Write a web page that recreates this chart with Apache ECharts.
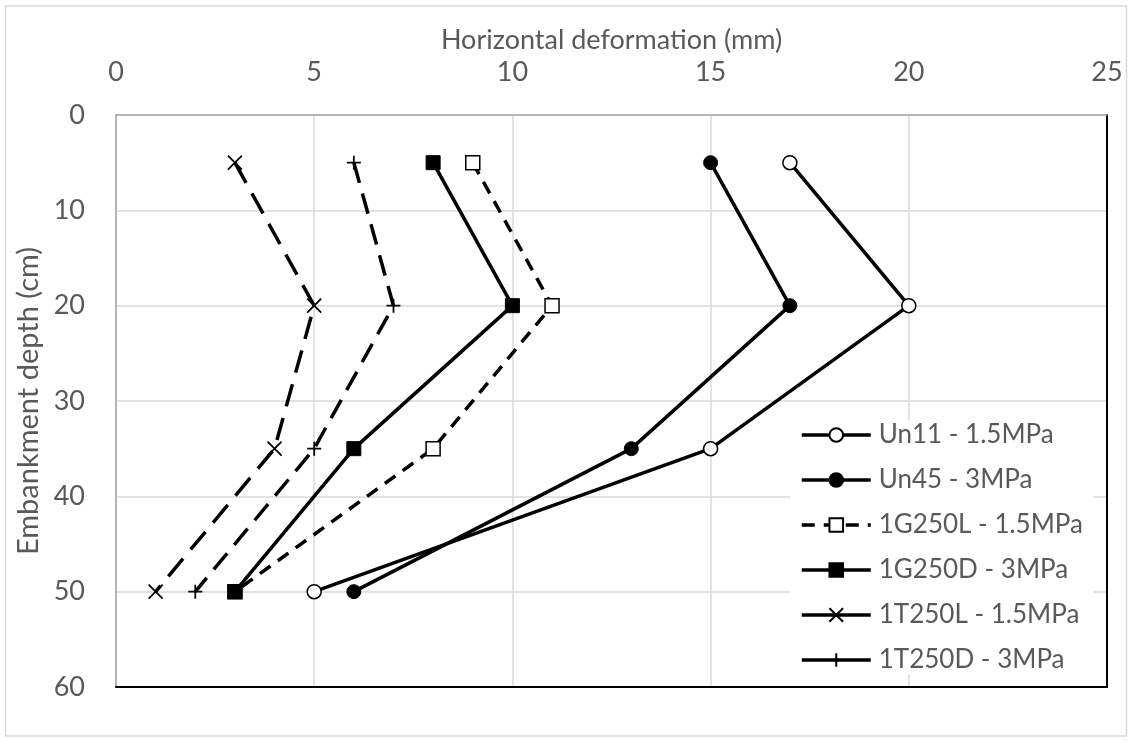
<!DOCTYPE html>
<html>
<head>
<meta charset="utf-8">
<script src="https://cdn.jsdelivr.net/npm/echarts@6/dist/echarts.min.js"></script>
<style>
html,body{margin:0;padding:0;background:#fff;}
#chart{width:1132px;height:742px;}
</style>
</head>
<body>
<div id="chart"></div>
<script>
const depths = [5, 20, 35, 50];
const un11 = [17, 20, 15, 5];
const un45 = [15, 17, 13, 6];
const g250L = [9, 11, 8, 3];
const g250D = [8, 10, 6, 3];
const t250L = [3, 5, 4, 1];
const t250D = [6, 7, 5, 2];
const seriesNames = ['Un11 - 1.5MPa', 'Un45 - 3MPa', '1G250L - 1.5MPa', '1G250D - 3MPa', '1T250L - 1.5MPa', '1T250D - 3MPa'];
const xTicks = [0, 5, 10, 15, 20, 25];
const yTicks = [0, 10, 20, 30, 40, 50, 60];

const FONT = 'Lato';
const TXT = '#595959';
const FS = 27;

function pts(vals) { return vals.map((v, i) => [v, depths[i]]); }

const crossPath = 'path://M0,0L10,10M10,0L0,10';
const plusPath = 'path://M5,0L5,10M0,5L10,5';

function mk(name, vals, symbol, fill, dash, size, bw) {
  return {
    name: name, type: 'line', data: pts(vals),
    symbol: symbol, symbolSize: size,
    xAxisIndex: 0, yAxisIndex: 0,
    lineStyle: { color: '#000', width: 3.5, type: dash },
    itemStyle: { color: fill, borderColor: '#000', borderWidth: bw },
    emphasis: { disabled: true },
    z: 3
  };
}

const series = [
  mk(seriesNames[0], un11, 'circle', '#fff', 'solid', 14, 1.5),
  mk(seriesNames[1], un45, 'circle', '#000', 'solid', 14, 1),
  mk(seriesNames[2], g250L, 'rect', '#fff', [13, 9], 14, 1.5),
  mk(seriesNames[3], g250D, 'rect', '#000', 'solid', 14, 1),
  mk(seriesNames[4], t250L, crossPath, 'rgba(0,0,0,0)', [23, 12], 14, 1.8),
  mk(seriesNames[5], t250D, plusPath, 'rgba(0,0,0,0)', [21, 11], 14, 1.8)
];

const chart = echarts.init(document.getElementById('chart'));
chart.setOption({
  animation: false,
  backgroundColor: '#fff',
  textStyle: { fontFamily: FONT },
  graphic: [{
    type: 'rect', shape: { x: 5.5, y: 6, width: 1121, height: 730 },
    style: { fill: 'none', stroke: '#d9d9d9', lineWidth: 1.5 }, z: -1
  }],
  grid: { left: 116, right: 25, top: 115, bottom: 55 },
  xAxis: [{
    type: 'value', position: 'top', min: 0, max: 25, interval: 5,
    name: 'Horizontal deformation (mm)', nameLocation: 'middle', nameGap: 60,
    nameTextStyle: { color: TXT, fontSize: FS, fontFamily: FONT },
    axisLine: { show: true, onZero: false, lineStyle: { color: '#a6a6a6', width: 1.5 } },
    axisTick: { show: false },
    axisLabel: { color: TXT, fontSize: FS, fontFamily: FONT, margin: 29,
      formatter: v => xTicks.includes(v) ? String(v) : '' },
    splitLine: { show: true, lineStyle: { color: '#d9d9d9', width: 1.5 } }
  }, {
    type: 'value', position: 'bottom', min: 0, max: 25, interval: 5,
    axisLine: { show: true, onZero: false, lineStyle: { color: '#000', width: 2 } },
    axisTick: { show: false }, axisLabel: { show: false }, splitLine: { show: false }
  }],
  yAxis: [{
    type: 'value', inverse: true, min: 0, max: 60, interval: 10,
    name: 'Embankment depth (cm)', nameLocation: 'middle', nameGap: 66,
    nameTextStyle: { color: TXT, fontSize: 29, fontFamily: FONT },
    axisLine: { show: true, onZero: false, lineStyle: { color: '#a6a6a6', width: 1.5 } },
    axisTick: { show: false },
    axisLabel: { color: TXT, fontSize: FS, fontFamily: FONT, margin: 31,
      formatter: v => yTicks.includes(v) ? String(v) : '' },
    splitLine: { show: true, lineStyle: { color: '#d9d9d9', width: 1.5 } }
  }, {
    type: 'value', inverse: true, min: 0, max: 60, interval: 10, position: 'right',
    axisLine: { show: true, onZero: false, lineStyle: { color: '#000', width: 2 } },
    axisTick: { show: false }, axisLabel: { show: false }, splitLine: { show: false }
  }],
  legend: {
    orient: 'vertical', left: 790, top: 420,
    padding: [0, 10, 0, 10], backgroundColor: '#fff',
    itemWidth: 69, itemHeight: 17, itemGap: 15,
    lineStyle: { width: 3.5 },
    textStyle: { color: TXT, fontSize: 26, fontFamily: FONT, lineHeight: 30, padding: [0, 0, 0, 3] },
    data: seriesNames.map((n, i) => i >= 4 ? { name: n, lineStyle: { type: 'solid', width: 3.5 } } : { name: n })
  },
  series: series
});
</script>
</body>
</html>
